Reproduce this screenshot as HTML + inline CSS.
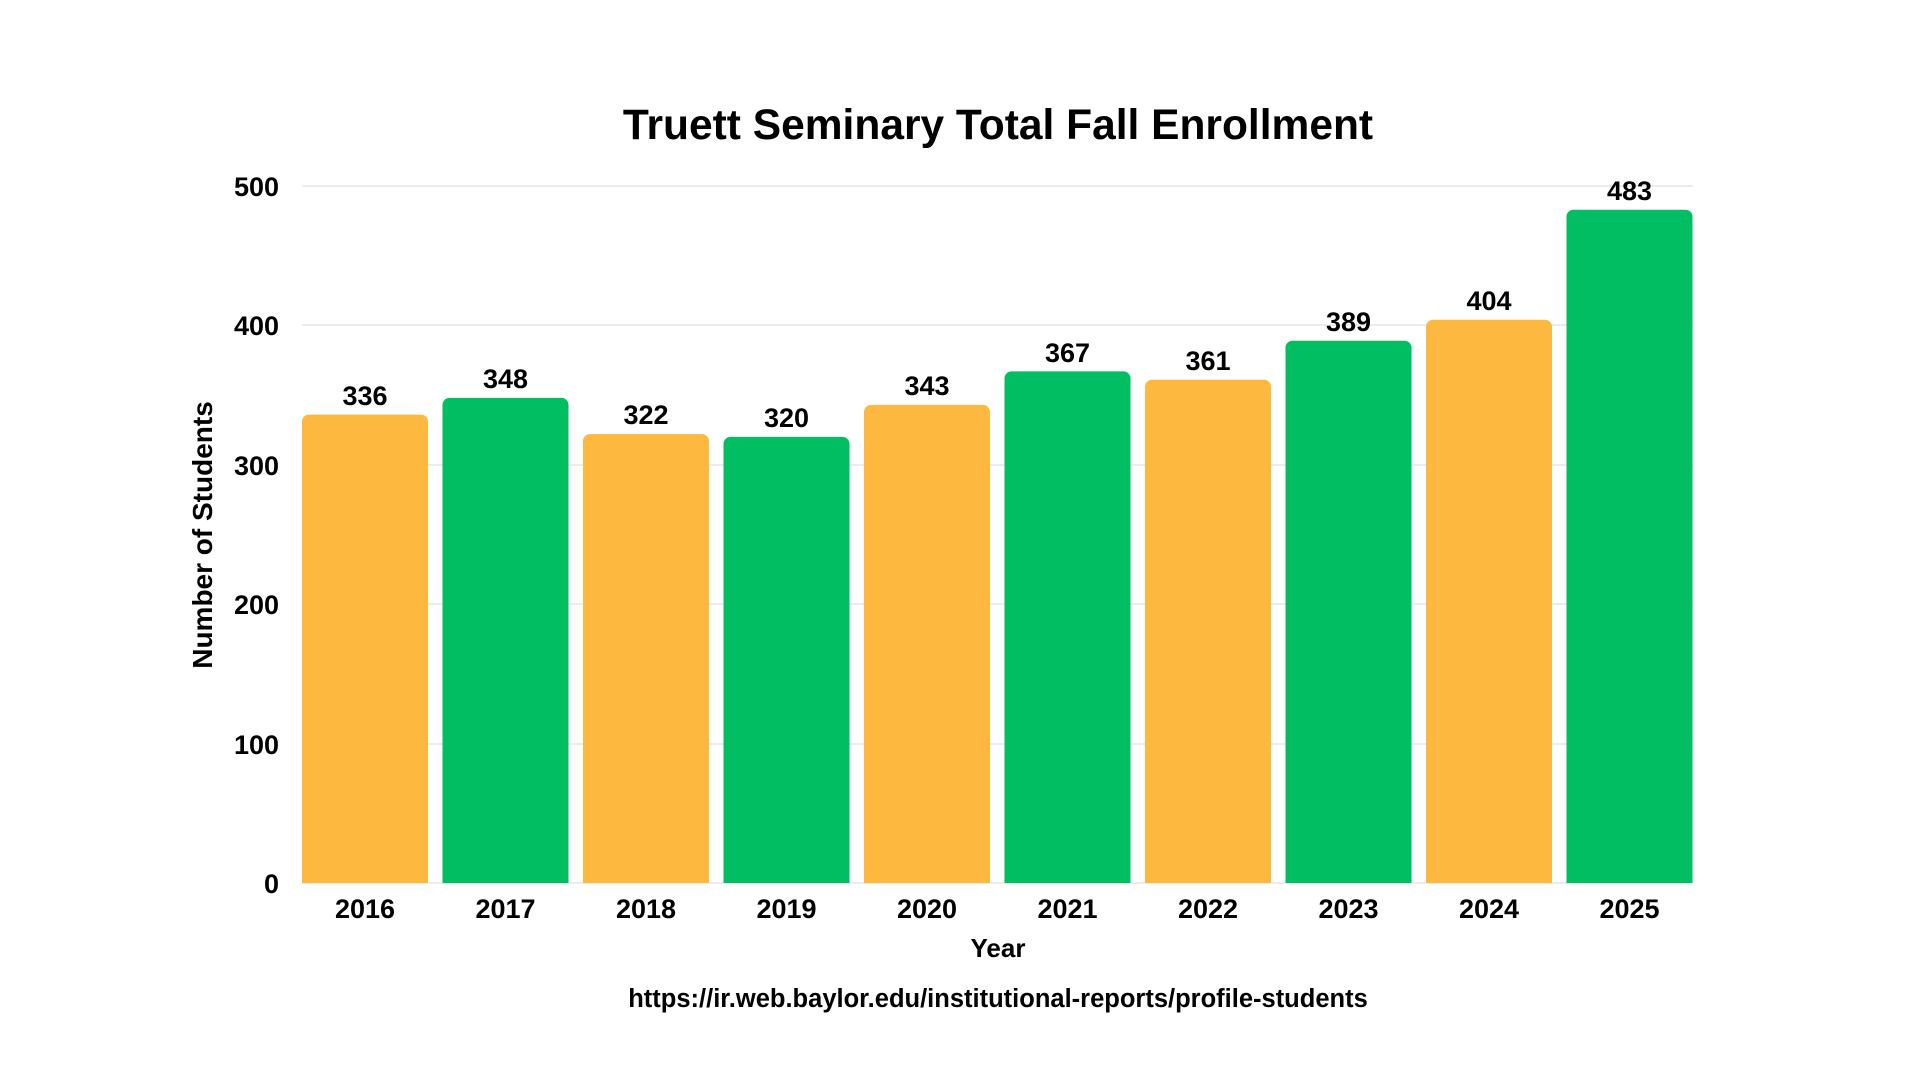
<!DOCTYPE html>
<html><head><meta charset="utf-8"><style>
body{margin:0;background:#fff;}
svg text{font-family:"Liberation Sans",Arial,sans-serif;font-weight:bold;fill:#000;}
</style></head><body>
<svg width="1920" height="1080" viewBox="0 0 1920 1080" xmlns="http://www.w3.org/2000/svg">
<rect width="1920" height="1080" fill="#fff"/>
<text x="998" y="139" font-size="42.5" text-anchor="middle">Truett Seminary Total Fall Enrollment</text>
<g stroke="#e6e6e6" stroke-width="1.5">
<line x1="302" x2="1693" y1="186" y2="186"/>
<line x1="302" x2="1693" y1="325" y2="325"/>
<line x1="302" x2="1693" y1="465" y2="465"/>
<line x1="302" x2="1693" y1="604" y2="604"/>
<line x1="302" x2="1693" y1="744" y2="744"/>
<line x1="302" x2="1693" y1="883" y2="883"/>
</g>
<g font-size="27" text-anchor="end">
<text x="279" y="196">500</text>
<text x="279" y="335">400</text>
<text x="279" y="475">300</text>
<text x="279" y="614">200</text>
<text x="279" y="754">100</text>
<text x="279" y="893">0</text>
</g>
<text transform="translate(212,535) rotate(-90)" font-size="28" text-anchor="middle">Number of Students</text>
<g>
<rect x="302" y="414.6" width="126" height="468.4" rx="7" fill="#FDB93F"/><rect x="302" y="870" width="126" height="13" fill="#FDB93F"/>
<rect x="442.5" y="397.9" width="126" height="485.1" rx="7" fill="#02BE63"/><rect x="442.5" y="870" width="126" height="13" fill="#02BE63"/>
<rect x="583" y="434.1" width="126" height="448.9" rx="7" fill="#FDB93F"/><rect x="583" y="870" width="126" height="13" fill="#FDB93F"/>
<rect x="723.5" y="436.9" width="126" height="446.1" rx="7" fill="#02BE63"/><rect x="723.5" y="870" width="126" height="13" fill="#02BE63"/>
<rect x="864" y="404.9" width="126" height="478.1" rx="7" fill="#FDB93F"/><rect x="864" y="870" width="126" height="13" fill="#FDB93F"/>
<rect x="1004.5" y="371.4" width="126" height="511.6" rx="7" fill="#02BE63"/><rect x="1004.5" y="870" width="126" height="13" fill="#02BE63"/>
<rect x="1145" y="379.8" width="126" height="503.2" rx="7" fill="#FDB93F"/><rect x="1145" y="870" width="126" height="13" fill="#FDB93F"/>
<rect x="1285.5" y="340.7" width="126" height="542.3" rx="7" fill="#02BE63"/><rect x="1285.5" y="870" width="126" height="13" fill="#02BE63"/>
<rect x="1426" y="319.8" width="126" height="563.2" rx="7" fill="#FDB93F"/><rect x="1426" y="870" width="126" height="13" fill="#FDB93F"/>
<rect x="1566.5" y="209.7" width="126" height="673.3" rx="7" fill="#02BE63"/><rect x="1566.5" y="870" width="126" height="13" fill="#02BE63"/>
</g>
<g font-size="27" text-anchor="middle">
<text x="365" y="405">336</text>
<text x="505.5" y="388">348</text>
<text x="646" y="424">322</text>
<text x="786.5" y="427">320</text>
<text x="927" y="395">343</text>
<text x="1067.5" y="362">367</text>
<text x="1208" y="370">361</text>
<text x="1348.5" y="331">389</text>
<text x="1489" y="310">404</text>
<text x="1629.5" y="200">483</text>
</g>
<g font-size="27" text-anchor="middle">
<text x="365" y="918">2016</text>
<text x="505.5" y="918">2017</text>
<text x="646" y="918">2018</text>
<text x="786.5" y="918">2019</text>
<text x="927" y="918">2020</text>
<text x="1067.5" y="918">2021</text>
<text x="1208" y="918">2022</text>
<text x="1348.5" y="918">2023</text>
<text x="1489" y="918">2024</text>
<text x="1629.5" y="918">2025</text>
</g>
<text x="998" y="957" font-size="26" text-anchor="middle">Year</text>
<text x="998" y="1007" font-size="25.5" text-anchor="middle">https://ir.web.baylor.edu/institutional-reports/profile-students</text>
</svg>
</body></html>
